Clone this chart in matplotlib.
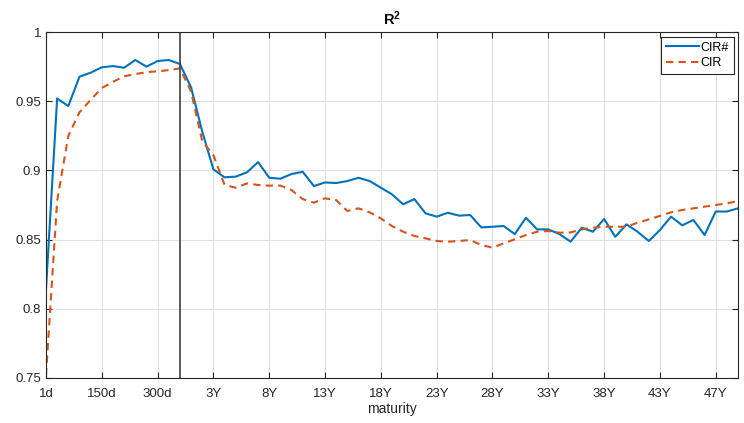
import numpy as np
import matplotlib
matplotlib.use('Agg')
from matplotlib import pyplot as plt

plt.rcParams['font.family'] = ['Liberation Sans', 'DejaVu Sans']
plt.rcParams['mathtext.fontset'] = 'custom'
plt.rcParams['mathtext.rm'] = 'Liberation Sans'
plt.rcParams['mathtext.bf'] = 'Liberation Sans:bold'

tick_pos = [0, 5, 10, 15, 20, 25, 30, 35, 40, 45, 50, 55, 60]
tick_labels = ['1d', '150d', '300d', '3Y', '8Y', '13Y', '18Y', '23Y', '28Y',
               '33Y', '38Y', '43Y', '47Y']

cir_sharp = [0.814, 0.952, 0.9465, 0.9677, 0.9706, 0.9745, 0.9754, 0.9742, 0.9798, 0.975,
             0.979, 0.9798, 0.9769, 0.960, 0.928, 0.9008, 0.895, 0.8955, 0.8986, 0.906,
             0.8947, 0.894, 0.8974, 0.899, 0.8887, 0.8913, 0.8909, 0.8923, 0.8947, 0.8923,
             0.8875, 0.8827, 0.8755, 0.8793, 0.869, 0.8666, 0.8694, 0.8673, 0.8678, 0.8588,
             0.8593, 0.8598, 0.854, 0.8658, 0.8574, 0.8574, 0.854, 0.8485, 0.8586, 0.8557,
             0.8649, 0.852, 0.861, 0.8557, 0.849, 0.8569, 0.8666, 0.8603, 0.8642, 0.8533,
             0.8703, 0.8703, 0.8726]

cir = [0.752, 0.878, 0.925, 0.942, 0.951, 0.9595, 0.964, 0.968, 0.9696, 0.971,
       0.9716, 0.9725, 0.9737, 0.957, 0.921, 0.911, 0.8895, 0.8875, 0.8906, 0.8895,
       0.889, 0.889, 0.8858, 0.8793, 0.8767, 0.8798, 0.8786, 0.8707, 0.8726, 0.8697,
       0.8653, 0.8598, 0.8557, 0.8526, 0.8509, 0.849, 0.8485, 0.849, 0.8497, 0.8461,
       0.8442, 0.8473, 0.8502, 0.8533, 0.8557, 0.8562, 0.855, 0.8552, 0.8574, 0.8586,
       0.8593, 0.8593, 0.8593, 0.8622, 0.8646, 0.8671, 0.8697, 0.8714, 0.8726, 0.8738,
       0.875, 0.8762, 0.8779]

split_idx = 12

x = np.arange(len(cir_sharp))

fig = plt.figure(figsize=(7.44, 4.23), dpi=100)
ax = fig.add_axes([0.0618, 0.1064, 0.9302, 0.8179])

ax.plot(x, cir_sharp, color='#0072BD', lw=1.5, label='CIR#')
ax.plot(x, cir, color='#D95319', lw=1.5, ls=(0, (3.5, 2.5)), label='CIR')
ax.axvline(split_idx, color='#404040', lw=1.2)

ax.set_xlim(0, 62)
ax.set_ylim(0.75, 1)
ax.set_xticks(tick_pos)
ax.set_xticklabels(tick_labels)
ax.set_yticks([0.75, 0.8, 0.85, 0.9, 0.95, 1])
ax.set_yticklabels(['0.75', '0.8', '0.85', '0.9', '0.95', '1'])
ax.grid(True, color='#DFDFDF', lw=0.8)
ax.set_axisbelow(True)
ax.tick_params(direction='in', length=4, width=0.8, top=True, right=True,
               labelsize=9.5, colors='#262626')
ax.tick_params(axis='x', pad=7)
for s in ax.spines.values():
    s.set_color('#262626')
    s.set_linewidth(0.8)

ax.set_title(r'$\mathbf{R^2}$', fontsize=10.5, color='#000000', pad=5)
ax.set_xlabel('maturity', fontsize=10, color='#262626', labelpad=2)

leg = ax.legend(loc='upper right', bbox_to_anchor=(0.999, 0.997), fontsize=9,
                handlelength=2.6, handletextpad=0.1, borderpad=0.4, labelspacing=0.25,
                fancybox=False, framealpha=1, edgecolor='#262626', borderaxespad=0.3)
leg.get_frame().set_linewidth(0.8)

fig.savefig('out.png', dpi=100)
